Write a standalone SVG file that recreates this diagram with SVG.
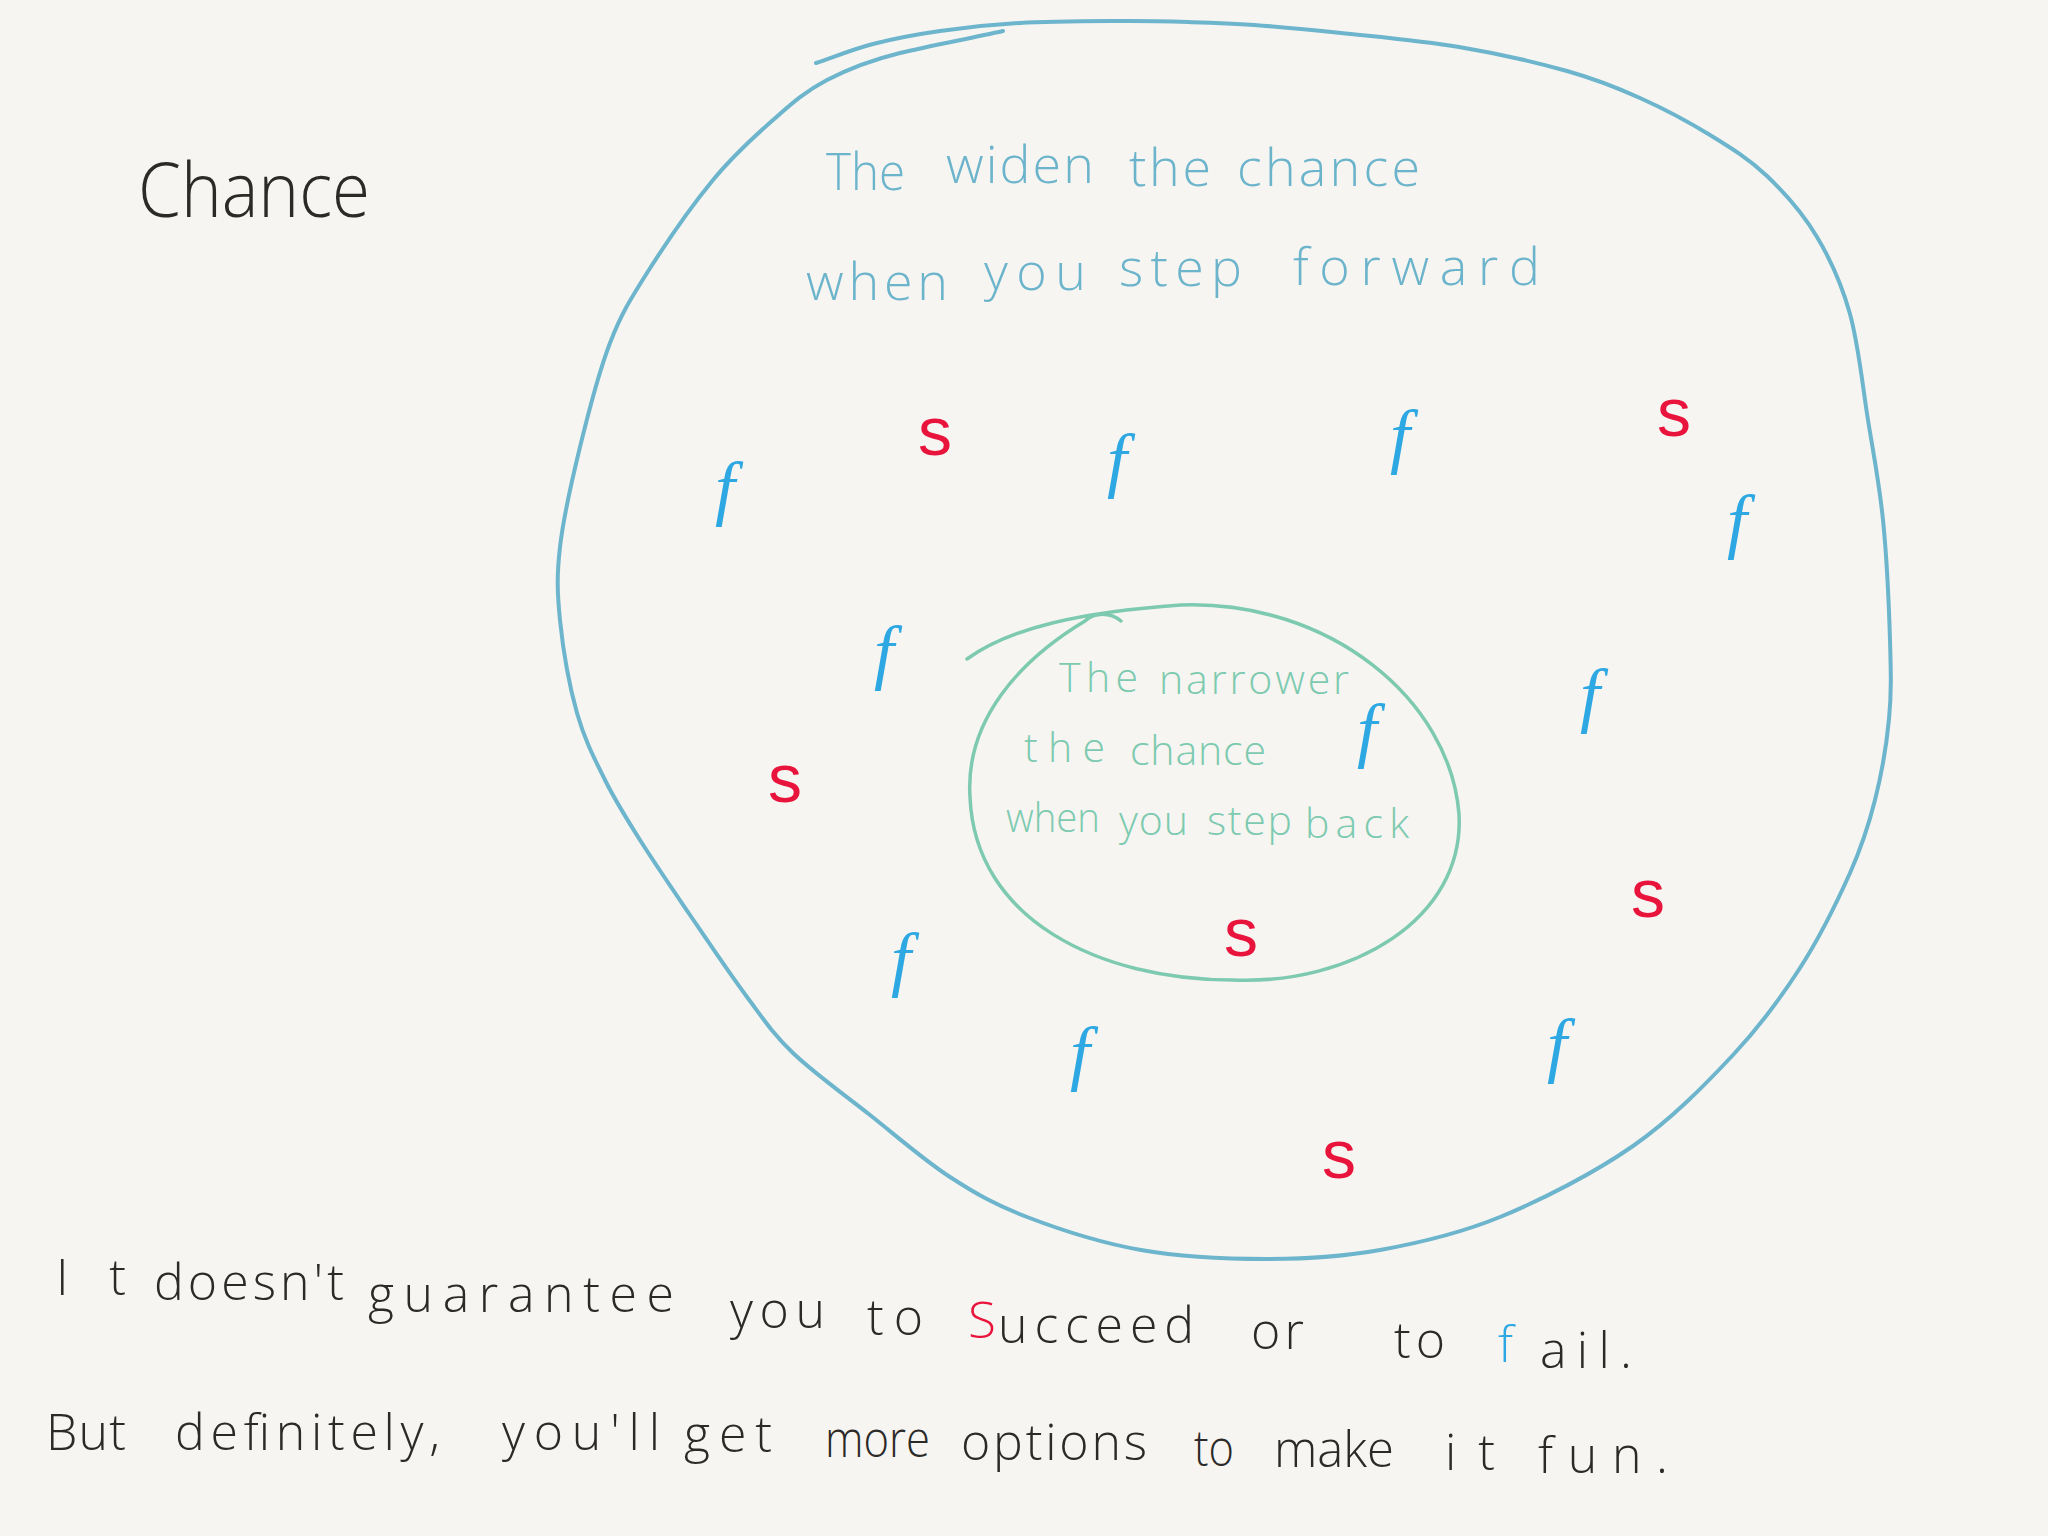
<svg xmlns="http://www.w3.org/2000/svg" width="2048" height="1536" viewBox="0 0 2048 1536">
<style>
.hand{font-family:"Open Sans","Liberation Sans",sans-serif;font-weight:300}
.blk{fill:#2b2a28}
.sky{fill:#6cb4cb;font-size:52px}
.mint{fill:#7dcab0;font-size:41px}
.bot{font-size:50px}
.f{font-family:"Liberation Serif",serif;font-style:italic;font-size:72px;fill:#2ea8e2;text-anchor:middle}
.s{font-family:"Liberation Sans",sans-serif;font-size:68px;fill:#e8143c;text-anchor:middle}
.red{fill:#e8143c}
.blue{fill:#2ea8e2}
</style>
<rect width="2048" height="1536" fill="#f6f5f1"/>

<g id="title">
<text class="hand blk" x="138" y="217" font-size="76" textLength="232" lengthAdjust="spacingAndGlyphs">Chance</text>
</g>

<g id="outer-region">
<path d="M816,63 C835,56.7 852.3,49.3 873,44 S915.5,34.5 940,31 S990,24.7 1020,23 S1092,21.2 1120,21 S1165.7,21.3 1188,22 S1228.5,23.2 1254,25 S1306.8,29.3 1341,33 S1421.3,40.7 1459,47 S1536.8,62.5 1567,71 S1616.2,87.3 1640,98 S1688.8,122 1710,135 S1749.2,159 1767,176 S1803.2,214 1817,237 S1841.5,283.5 1850,314 S1862.5,385.7 1868,420 S1879.3,483.3 1883,520 S1889,606.8 1890,640 S1891.5,692.3 1889,719 S1881.5,774.3 1875,800 S1862.5,845 1850,873 S1819.5,937.7 1800,968 S1760.8,1025.3 1733,1055 S1671.8,1119 1633,1146 S1542.2,1199.7 1500,1217 S1418.8,1243 1380,1250 S1306.8,1259 1267,1259 S1181,1257 1141,1250 S1058.8,1229.2 1027,1217 S976.2,1194 950,1177 S896.2,1135.7 870,1115 S813.5,1072.7 793,1053 S764.2,1020 747,997 S707.8,941.2 690,915 S654.2,862.5 640,840 S615.5,801.2 605,780 S584.5,739.7 577,713 S562.8,647.7 560,620 S556.7,575.8 560,547 S571.7,481 580,447 S598.8,372 610,343 S629.8,300.2 647,273 S692,205.5 713,180 S754,136.7 773,120 S805.8,91 827,80 S870.7,60.2 900,53 S968.7,38.7 1003,31" fill="none" stroke="#6db5cc" stroke-width="4" stroke-linecap="round" stroke-linejoin="round"/>
<text class="hand sky" x="826" y="190" textLength="79" lengthAdjust="spacingAndGlyphs">The</text>
<text class="hand sky" x="946" y="183" textLength="148">widen</text>
<text class="hand sky" x="1129" y="186" textLength="82">the</text>
<text class="hand sky" x="1237" y="186" textLength="183">chance</text>
<text class="hand sky" x="806" y="300" textLength="142">when</text>
<text class="hand sky" x="984" y="290" textLength="102">you</text>
<text class="hand sky" x="1119" y="286" textLength="123">step</text>
<text class="hand sky" x="1293" y="285" textLength="247">forward</text>
</g>

<g id="inner-region">
<path d="M967,659 C1010,628 1080,612 1181,605 C1330,600 1450,700 1459,814 C1465,920 1350,985 1233,980 C1100,980 975,920 970,797 C965,720 1020,660 1085,621 C1095,612 1110,612 1121,621" fill="none" stroke="#7dcab0" stroke-width="3.5" stroke-linecap="round" stroke-linejoin="round"/>
<text class="hand mint" x="1059" y="692" textLength="79">The</text>
<text class="hand mint" x="1159" y="694" textLength="190">narrower</text>
<text class="hand mint" x="1024" y="762" textLength="81">the</text>
<text class="hand mint" x="1130" y="765" textLength="136">chance</text>
<text class="hand mint" x="1006" y="832" textLength="94" lengthAdjust="spacingAndGlyphs">when</text>
<text class="hand mint" x="1119" y="835" textLength="69">you</text>
<text class="hand mint" x="1207" y="835" textLength="85">step</text>
<text class="hand mint" x="1305" y="838" textLength="104">back</text>
</g>

<g id="fails">
<text class="f" x="725" y="512">f</text>
<text class="f" x="1117" y="484">f</text>
<text class="f" x="1400" y="460">f</text>
<text class="f" x="1737" y="545">f</text>
<text class="f" x="884" y="676">f</text>
<text class="f" x="1367" y="754">f</text>
<text class="f" x="1590" y="719">f</text>
<text class="f" x="901" y="983">f</text>
<text class="f" x="1080" y="1077">f</text>
<text class="f" x="1557" y="1069">f</text>
</g>

<g id="successes">
<text class="s" x="935" y="455">s</text>
<text class="s" x="1674" y="436">s</text>
<text class="s" x="785" y="802">s</text>
<text class="s" x="1241" y="956">s</text>
<text class="s" x="1648" y="917">s</text>
<text class="s" x="1339" y="1178">s</text>
</g>

<g id="caption">
<text class="hand blk bot" x="56" y="1295" textLength="70">It</text>
<text class="hand blk bot" x="154" y="1300" textLength="190">doesn't</text>
<text class="hand blk bot" x="368" y="1312" textLength="306">guarantee</text>
<text class="hand blk bot" x="730" y="1328" textLength="95">you</text>
<text class="hand blk bot" x="867" y="1335" textLength="56">to</text>
<text class="hand red bot" x="968" y="1338" textLength="28" lengthAdjust="spacingAndGlyphs">S</text>
<text class="hand blk bot" x="998" y="1343" textLength="196">ucceed</text>
<text class="hand blk bot" x="1251" y="1349" textLength="53">or</text>
<text class="hand blk bot" x="1394" y="1358" textLength="51">to</text>
<text class="hand blue bot" x="1498" y="1362" textLength="36">f</text>
<text class="hand blk bot" x="1540" y="1368" textLength="92">ail.</text>
<text class="hand blk bot" x="46" y="1450" textLength="80">But</text>
<text class="hand blk bot" x="175" y="1450" textLength="265">definitely,</text>
<text class="hand blk bot" x="502" y="1450" textLength="158">you'll</text>
<text class="hand blk bot" x="684" y="1452" textLength="88">get</text>
<text class="hand blk bot" x="825" y="1457" textLength="105" lengthAdjust="spacingAndGlyphs">more</text>
<text class="hand blk bot" x="961" y="1460" textLength="186">options</text>
<text class="hand blk bot" x="1194" y="1466" textLength="40" lengthAdjust="spacingAndGlyphs">to</text>
<text class="hand blk bot" x="1274" y="1467" textLength="120" lengthAdjust="spacingAndGlyphs">make</text>
<text class="hand blk bot" x="1445" y="1470" textLength="50">it</text>
<text class="hand blk bot" x="1538" y="1473" textLength="130">fun.</text>
</g>
</svg>
